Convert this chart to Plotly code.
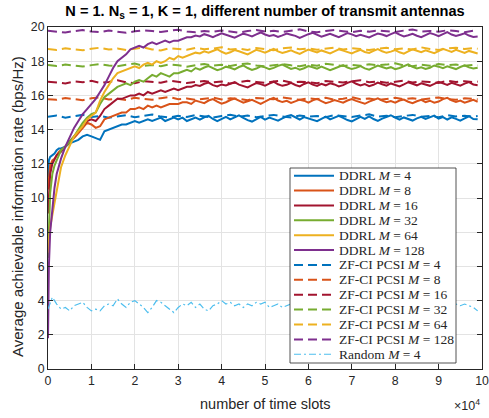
import plotly.graph_objects as go

# ---------------- data ----------------
slots = [0, 200, 500, 1000, 1500, 2000, 2500] + list(range(3000, 99001, 1000))
zf_slots = list(range(0, 98001, 2000)) + [99000]
rand_slots = list(range(0, 99001, 1000))

ddrl_m4 = [11.2, 12.2, 12.4, 12.5, 12.6, 12.8, 12.9,
           12.9, 13.0, 13.2, 13.3, 13.4, 13.6, 13.7, 13.6, 13.5, 13.4, 13.9, 14.0, 14.1, 14.2, 14.3, 14.3,
           14.4, 14.5, 14.4, 14.5, 14.6, 14.5, 14.6, 14.7, 14.5, 14.6, 14.7, 14.6, 14.7, 14.5, 14.6, 14.7,
           14.58, 14.72, 14.80, 14.62, 14.50, 14.63, 14.75, 14.60, 14.71, 14.83,
           14.68, 14.55, 14.47, 14.62, 14.74, 14.58, 14.70, 14.61, 14.52, 14.66,
           14.78, 14.85, 14.70, 14.59, 14.73, 14.64, 14.57, 14.49, 14.63, 14.76,
           14.60, 14.72, 14.81, 14.69, 14.56, 14.48, 14.61, 14.74, 14.63, 14.77,
           14.62, 14.51, 14.64, 14.73, 14.84, 14.70, 14.58, 14.71, 14.60, 14.53,
           14.66, 14.75, 14.62, 14.70, 14.82, 14.64, 14.73, 14.59, 14.72, 14.63,
           14.52, 14.65, 14.78, 14.62, 14.60]
ddrl_m8 = [10.5, 11.3, 11.9, 12.2, 12.3, 12.5, 12.7,
           12.8, 13.0, 13.3, 13.5, 13.8, 14.1, 14.4, 14.3, 14.1, 14.2, 14.6, 14.7, 14.8, 14.9, 15.0, 15.0,
           15.2, 15.2, 15.3, 15.2, 15.4, 15.3, 15.4, 15.3, 15.4, 15.5, 15.5, 15.5, 15.6, 15.6, 15.5, 15.7,
           15.62, 15.55, 15.70, 15.78, 15.64, 15.52, 15.60, 15.73, 15.81, 15.67,
           15.58, 15.66, 15.74, 15.62, 15.50, 15.63, 15.77, 15.85, 15.70, 15.61,
           15.68, 15.56, 15.64, 15.75, 15.69, 15.58, 15.71, 15.80, 15.66, 15.54,
           15.62, 15.73, 15.65, 15.57, 15.70, 15.79, 15.68, 15.60, 15.51, 15.64,
           15.72, 15.83, 15.69, 15.60, 15.67, 15.58, 15.70, 15.76, 15.63, 15.55,
           15.66, 15.74, 15.61, 15.69, 15.57, 15.64, 15.78, 15.86, 15.71, 15.62,
           15.70, 15.58, 15.66, 15.74, 15.63]
ddrl_m16 = [9.1, 10.5, 11.4, 12.0, 12.3, 12.5, 12.6,
            12.7, 13.0, 13.3, 13.6, 13.9, 14.2, 14.5, 14.6, 14.5, 14.8, 15.2, 15.4, 15.6, 15.8, 15.8, 15.9,
            16.0, 16.0, 16.1, 16.0, 16.2, 16.1, 16.2, 16.3, 16.2, 16.3, 16.4, 16.3, 16.4, 16.5, 16.5, 16.6,
            16.55, 16.68, 16.75, 16.60, 16.52, 16.64, 16.58, 16.70, 16.78, 16.63,
            16.54, 16.47, 16.60, 16.72, 16.66, 16.57, 16.69, 16.80, 16.65, 16.56,
            16.62, 16.74, 16.61, 16.53, 16.67, 16.76, 16.63, 16.55, 16.68, 16.59,
            16.71, 16.64, 16.52, 16.60, 16.73, 16.82, 16.68, 16.58, 16.66, 16.54,
            16.62, 16.75, 16.65, 16.57, 16.70, 16.61, 16.53, 16.64, 16.77, 16.68,
            16.59, 16.71, 16.63, 16.56, 16.67, 16.79, 16.70, 16.61, 16.74, 16.65,
            16.57, 16.69, 16.78, 16.64, 16.60]
ddrl_m32 = [6.5, 8.4, 10.3, 11.4, 11.9, 12.2, 12.5,
            12.8, 13.0, 13.3, 13.6, 14.0, 14.4, 14.7, 14.9, 15.0, 15.5, 15.9, 16.1, 16.3, 16.5, 16.6, 16.7,
            16.6, 16.8, 16.9, 16.8, 17.0, 17.2, 17.1, 17.3, 17.2, 17.1, 17.3, 17.3, 17.4, 17.5, 17.4, 17.6,
            17.50, 17.63, 17.71, 17.58, 17.47, 17.55, 17.68, 17.62, 17.52, 17.66,
            17.75, 17.60, 17.49, 17.57, 17.70, 17.64, 17.53, 17.61, 17.73, 17.80,
            17.66, 17.55, 17.62, 17.51, 17.59, 17.72, 17.65, 17.56, 17.68, 17.60,
            17.48, 17.57, 17.69, 17.77, 17.63, 17.54, 17.61, 17.71, 17.58, 17.50,
            17.63, 17.74, 17.66, 17.57, 17.65, 17.53, 17.60, 17.72, 17.81, 17.67,
            17.58, 17.64, 17.55, 17.62, 17.75, 17.68, 17.59, 17.70, 17.63, 17.54,
            17.66, 17.76, 17.64, 17.57, 17.62]
ddrl_m64 = [6.8, 7.5, 8.3, 9.0, 9.7, 10.5, 11.2,
            11.8, 12.5, 13.1, 13.6, 13.9, 14.2, 14.6, 14.8, 15.0, 15.7, 16.2, 16.6, 17.0, 17.3, 17.4, 17.5,
            17.6, 17.7, 17.6, 17.8, 17.9, 17.8, 18.0, 17.9, 18.0, 18.2, 18.1, 18.3, 18.2, 18.3, 18.4, 18.5,
            18.45, 18.58, 18.50, 18.62, 18.70, 18.55, 18.44, 18.52, 18.65, 18.58,
            18.47, 18.40, 18.53, 18.66, 18.59, 18.50, 18.61, 18.72, 18.57, 18.48,
            18.55, 18.64, 18.52, 18.43, 18.56, 18.68, 18.60, 18.51, 18.63, 18.55,
            18.46, 18.58, 18.70, 18.62, 18.53, 18.45, 18.57, 18.66, 18.54, 18.48,
            18.60, 18.71, 18.58, 18.49, 18.56, 18.65, 18.52, 18.44, 18.57, 18.69,
            18.61, 18.53, 18.64, 18.55, 18.47, 18.59, 18.72, 18.63, 18.54, 18.66,
            18.58, 18.48, 18.60, 18.52, 18.45]
ddrl_m128 = [1.8, 6.0, 8.0, 9.5, 10.6, 11.4, 11.9,
             12.3, 13.0, 13.6, 14.1, 14.5, 14.9, 15.2, 15.5, 15.8, 16.2, 16.6, 17.1, 17.6, 18.0, 18.2, 18.4,
             18.7, 18.8, 18.9, 18.8, 19.0, 19.1, 19.0, 19.1, 19.2, 19.1, 19.2, 19.2, 19.3, 19.4, 19.4, 19.5,
             19.45, 19.58, 19.50, 19.40, 19.52, 19.63, 19.55, 19.46, 19.38, 19.50,
             19.61, 19.54, 19.45, 19.57, 19.68, 19.56, 19.47, 19.53, 19.42, 19.51,
             19.62, 19.55, 19.48, 19.36, 19.49, 19.58, 19.66, 19.54, 19.44, 19.52,
             19.60, 19.50, 19.41, 19.53, 19.64, 19.57, 19.46, 19.55, 19.48, 19.39,
             19.51, 19.62, 19.56, 19.47, 19.58, 19.69, 19.55, 19.45, 19.52, 19.60,
             19.49, 19.40, 19.53, 19.65, 19.57, 19.46, 19.58, 19.70, 19.56, 19.47,
             19.55, 19.63, 19.50, 19.42, 19.45]

zf_m4 = [14.75, 14.82, 14.70, 14.78, 14.86, 14.74, 14.80, 14.69, 14.77, 14.84,
         14.72, 14.79, 14.88, 14.76, 14.71, 14.81, 14.74, 14.85, 14.78, 14.70,
         14.80, 14.87, 14.75, 14.82, 14.73, 14.79, 14.86, 14.77, 14.71, 14.83,
         14.76, 14.80, 14.72, 14.85, 14.78, 14.74, 14.82, 14.89, 14.76, 14.81,
         14.73, 14.79, 14.86, 14.75, 14.80, 14.72, 14.84, 14.77, 14.81, 14.76, 14.79]
zf_m8 = [15.78, 15.74, 15.85, 15.80, 15.72, 15.83, 15.88, 15.76, 15.81, 15.73,
         15.86, 15.79, 15.75, 15.84, 15.90, 15.77, 15.82, 15.74, 15.80, 15.87,
         15.76, 15.83, 15.79, 15.72, 15.85, 15.81, 15.77, 15.88, 15.80, 15.74,
         15.83, 15.78, 15.86, 15.75, 15.81, 15.89, 15.77, 15.82, 15.73, 15.80,
         15.86, 15.78, 15.84, 15.76, 15.81, 15.88, 15.79, 15.74, 15.83, 15.80, 15.77]
zf_m16 = [16.80, 16.75, 16.70, 16.82, 16.77, 16.85, 16.73, 16.79, 16.88, 16.76,
          16.71, 16.83, 16.78, 16.74, 16.86, 16.80, 16.72, 16.79, 16.84, 16.76,
          16.81, 16.69, 16.77, 16.85, 16.79, 16.73, 16.82, 16.87, 16.75, 16.80,
          16.78, 16.71, 16.84, 16.79, 16.76, 16.83, 16.89, 16.77, 16.81, 16.74,
          16.80, 16.86, 16.76, 16.82, 16.78, 16.73, 16.85, 16.79, 16.83, 16.77, 16.81]
zf_m32 = [17.78, 17.72, 17.80, 17.74, 17.69, 17.77, 17.83, 17.75, 17.70, 17.79,
          17.86, 17.73, 17.78, 17.71, 17.81, 17.76, 17.68, 17.77, 17.84, 17.74,
          17.79, 17.72, 17.82, 17.87, 17.75, 17.70, 17.78, 17.83, 17.76, 17.71,
          17.80, 17.74, 17.85, 17.77, 17.72, 17.79, 17.73, 17.82, 17.76, 17.80,
          17.88, 17.75, 17.71, 17.79, 17.74, 17.83, 17.77, 17.80, 17.73, 17.78, 17.75]
zf_m64 = [18.72, 18.66, 18.75, 18.70, 18.64, 18.73, 18.79, 18.68, 18.74, 18.65,
          18.71, 18.80, 18.69, 18.63, 18.76, 18.72, 18.67, 18.78, 18.70, 18.74,
          18.82, 18.69, 18.73, 18.66, 18.77, 18.71, 18.64, 18.75, 18.80, 18.70,
          18.74, 18.67, 18.72, 18.79, 18.68, 18.76, 18.71, 18.65, 18.73, 18.78,
          18.70, 18.75, 18.68, 18.81, 18.72, 18.66, 18.74, 18.79, 18.71, 18.76, 18.73]
zf_m128 = [19.78, 19.72, 19.68, 19.76, 19.82, 19.74, 19.70, 19.79, 19.73, 19.66,
           19.75, 19.81, 19.77, 19.71, 19.78, 19.84, 19.74, 19.69, 19.77, 19.72,
           19.80, 19.75, 19.67, 19.76, 19.83, 19.73, 19.78, 19.71, 19.79, 19.86,
           19.74, 19.70, 19.77, 19.82, 19.75, 19.69, 19.78, 19.73, 19.80, 19.76,
           19.71, 19.79, 19.85, 19.74, 19.77, 19.72, 19.81, 19.76, 19.70, 19.78, 19.74]

random_m4 = [3.5, 4.2, 3.8, 3.5, 3.6, 3.4, 3.7, 3.8, 3.9, 3.6,
             3.4, 3.5, 3.4, 3.7, 3.8, 3.7, 4.1, 3.8, 3.6, 3.9,
             4.0, 3.8, 3.6, 3.3, 3.6, 4.0, 3.9, 3.7, 3.5, 3.3,
             3.6, 3.8, 3.7, 3.9, 3.6, 3.8, 3.5, 3.4, 3.7, 3.8,
             4.0, 3.8, 3.9, 3.7, 3.8, 3.6, 3.8, 3.7, 3.9, 3.8,
             3.9, 3.6, 3.7, 3.8, 3.6, 3.7,
             3.8, 3.6, 3.5, 3.7, 3.9, 3.8, 3.6, 3.7, 3.5, 3.8,
             3.9, 3.7, 3.6, 3.8, 3.7, 3.5, 3.6, 3.9, 3.8, 3.7,
             3.6, 3.8, 3.5, 3.7, 3.9, 3.8, 3.6, 3.7, 3.8, 3.6,
             3.5, 3.7, 3.8, 3.6,
             3.7, 3.6, 3.8, 4.0, 3.8, 3.7, 3.8, 3.7, 3.6, 3.4]

x_ticks = list(range(0, 100001, 10000))
x_tick_labels = [str(i) for i in range(0, 11)]
y_ticks = list(range(0, 21, 2))

colors = ["#0072BD", "#D95319", "#A2142F", "#77AC30", "#EDB120", "#7E2F8E"]
m_labels = ["4", "8", "16", "32", "64", "128"]
ddrl_series = [ddrl_m4, ddrl_m8, ddrl_m16, ddrl_m32, ddrl_m64, ddrl_m128]
zf_series = [zf_m4, zf_m8, zf_m16, zf_m32, zf_m64, zf_m128]
random_color = "#4DBEEE"

for s in ddrl_series:
    assert len(s) == len(slots), [len(q) for q in ddrl_series]
for s in zf_series:
    assert len(s) == len(zf_slots), [len(q) for q in zf_series]
assert len(random_m4) == len(rand_slots), len(random_m4)

# ---------------- figure ----------------
W, H = 489, 418
L, R, T, B = 48, 7, 27, 49
PW, PH = W - L - R, H - T - B
SANS = "Liberation Sans"
TXT = "#262626"

fig = go.Figure()
ZF_DASH = "9px,5px"
RAND_DASH = "7px,3px,2px,3px"

for s, c in zip(zf_series, colors):
    fig.add_trace(go.Scatter(x=zf_slots, y=s, mode="lines",
                             line=dict(color=c, width=2, dash=ZF_DASH), showlegend=False))
for s, c in zip(ddrl_series, colors):
    fig.add_trace(go.Scatter(x=slots, y=s, mode="lines",
                             line=dict(color=c, width=2), showlegend=False))
fig.add_trace(go.Scatter(x=rand_slots, y=random_m4, mode="lines",
                         line=dict(color=random_color, width=1.2, dash=RAND_DASH), showlegend=False))

def px_x(px):
    return (px - L) / PW

def px_y(py):
    return (H - B - py) / PH

# custom legend (MATLAB-style compact rows)
leg_left, leg_right, leg_top, leg_bottom = 290, 456, 168, 363
shapes = [dict(type="rect", xref="paper", yref="paper",
               x0=px_x(leg_left), x1=px_x(leg_right), y0=px_y(leg_bottom), y1=px_y(leg_top),
               fillcolor="white", line=dict(color=TXT, width=0.8), layer="above")]
annotations = []
entries = []
for c, m in zip(colors, m_labels):
    entries.append((f"DDRL <i>M</i> = {m}", c, "solid", 2))
for c, m in zip(colors, m_labels):
    entries.append((f"ZF-CI PCSI <i>M</i> = {m}", c, ZF_DASH, 2))
entries.append(("Random <i>M</i> = 4", random_color, RAND_DASH, 1.2))

row0, row_step = 175.7, 14.88
for i, (txt, c, dash, w) in enumerate(entries):
    yy = px_y(row0 + row_step * i)
    shapes.append(dict(type="line", xref="paper", yref="paper",
                       x0=px_x(294), x1=px_x(334), y0=yy, y1=yy,
                       line=dict(color=c, width=w, dash=dash), layer="above"))
    annotations.append(dict(text=txt, xref="paper", yref="paper", x=px_x(337.3), y=yy,
                            xanchor="left", yanchor="middle", showarrow=False,
                            font=dict(family="Liberation Serif", size=13.5, color=TXT)))

# axis titles and exponent label
annotations.append(dict(text="number of time slots", xref="paper", yref="paper",
                        x=0.5, y=px_y(404), xanchor="center", yanchor="middle", showarrow=False,
                        font=dict(family=SANS, size=14.5, color=TXT)))
annotations.append(dict(text="Average achievable information rate (bps/Hz)", xref="paper", yref="paper",
                        x=px_x(17.5), y=px_y(206.5), xanchor="center", yanchor="middle",
                        textangle=-90, showarrow=False,
                        font=dict(family=SANS, size=15, color=TXT)))
annotations.append(dict(text="\u00d710<sup>4</sup>", xref="paper", yref="paper",
                        x=1.0, y=px_y(405), xanchor="right", yanchor="middle", showarrow=False,
                        font=dict(family=SANS, size=12.5, color=TXT)))

axis_common = dict(showline=True, linecolor=TXT, linewidth=1, mirror="ticks",
                   ticks="inside", ticklen=5, tickcolor=TXT, showgrid=True,
                   gridcolor="#e3e3e3", gridwidth=1, zeroline=False, automargin=False,
                   tickfont=dict(family=SANS, size=12.3, color=TXT))

fig.update_layout(
    width=W, height=H,
    margin=dict(l=L, r=R, t=T, b=B, pad=0, autoexpand=False),
    paper_bgcolor="white", plot_bgcolor="white",
    title=dict(text="<b>N = 1. N<sub>s</sub> = 1, K = 1, different number of transmit antennas</b>",
               x=0.5, xref="paper", xanchor="center", y=1 - 10.5 / H, yref="container", yanchor="middle",
               font=dict(family=SANS, size=14.6, color="black")),
    xaxis=dict(range=[0, 100000], tickvals=x_ticks, ticktext=x_tick_labels, **axis_common),
    yaxis=dict(range=[0, 20], tickvals=y_ticks, **axis_common),
    shapes=shapes,
    annotations=annotations,
)

fig.write_html("out.html", config={"displayModeBar": False},
               post_script="document.body.style.margin='0px';")
